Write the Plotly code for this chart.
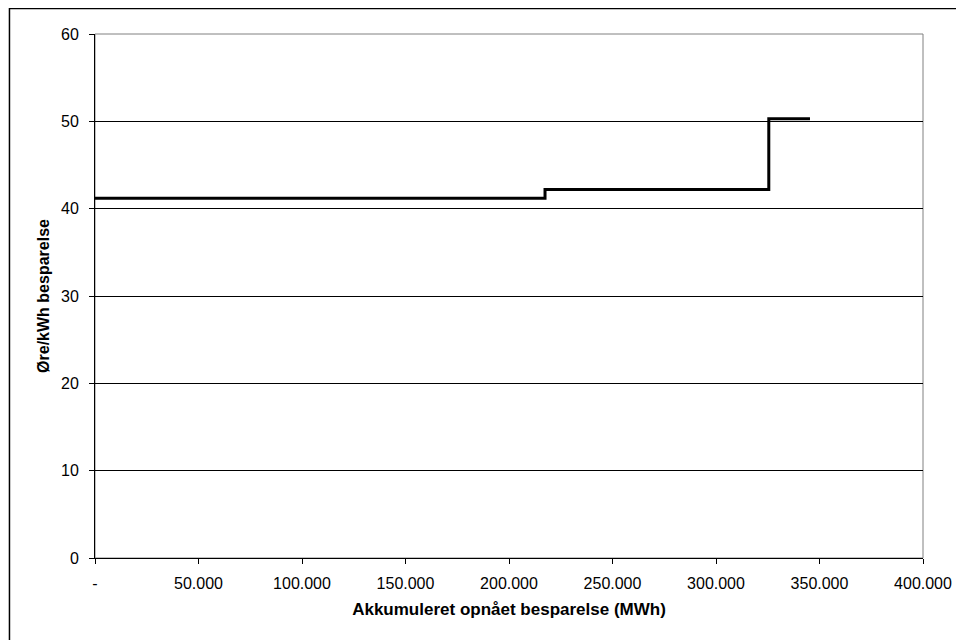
import plotly.graph_objects as go

# Step data: cumulative savings (MWh) and price (øre/kWh)
cum_savings = [0, 217400, 325500, 345400]
price = [41.2, 42.2, 50.3, 50.3]

x_tickvals = [0, 50000, 100000, 150000, 200000, 250000, 300000, 350000, 400000]
x_ticktext = ["-", "50.000", "100.000", "150.000", "200.000", "250.000", "300.000", "350.000", "400.000"]
y_tickvals = [0, 10, 20, 30, 40, 50, 60]

fig = go.Figure()
fig.add_trace(go.Scatter(
    x=cum_savings, y=price, mode="lines",
    line=dict(shape="hv", color="black", width=3),
    showlegend=False, hoverinfo="x+y",
))

font = "Liberation Sans, Arial, sans-serif"
# page body has an 8px margin, so offsets compensate
fig.update_layout(
    width=964, height=640,
    margin=dict(l=87, r=49, t=26, b=90),
    paper_bgcolor="white", plot_bgcolor="white",
    font=dict(family=font, size=16, color="black"),
    xaxis=dict(
        range=[0, 400000], tickvals=x_tickvals, ticktext=x_ticktext,
        showgrid=False, zeroline=False,
        showline=True, linecolor="black", linewidth=1,
        ticks="outside", ticklen=5, tickcolor="black",
        ticklabelstandoff=6,
        tickfont=dict(size=16),
        title=dict(text="<b>Akkumuleret opnået besparelse (MWh)</b>", font=dict(size=17), standoff=11),
        fixedrange=True,
    ),
    yaxis=dict(
        range=[0, 60], tickvals=y_tickvals,
        showgrid=True, gridcolor="black", gridwidth=1,
        zeroline=False,
        showline=True, linecolor="black", linewidth=1,
        ticks="outside", ticklen=5, tickcolor="black",
        ticklabelstandoff=7,
        tickfont=dict(size=16),
        title=dict(text="<b>Øre/kWh besparelse</b>", font=dict(size=16), standoff=7),
        fixedrange=True,
    ),
    shapes=[
        dict(type="rect", xref="paper", yref="paper", x0=0, x1=1, y0=0, y1=1,
             line=dict(color="#808080", width=1), layer="below"),
        dict(type="rect", xref="paper", yref="paper", x0=-0.1033, x1=1.2, y0=-0.3, y1=1.0485,
             line=dict(color="black", width=1.5), layer="below"),
    ],
)

fig.write_html("out.html")
